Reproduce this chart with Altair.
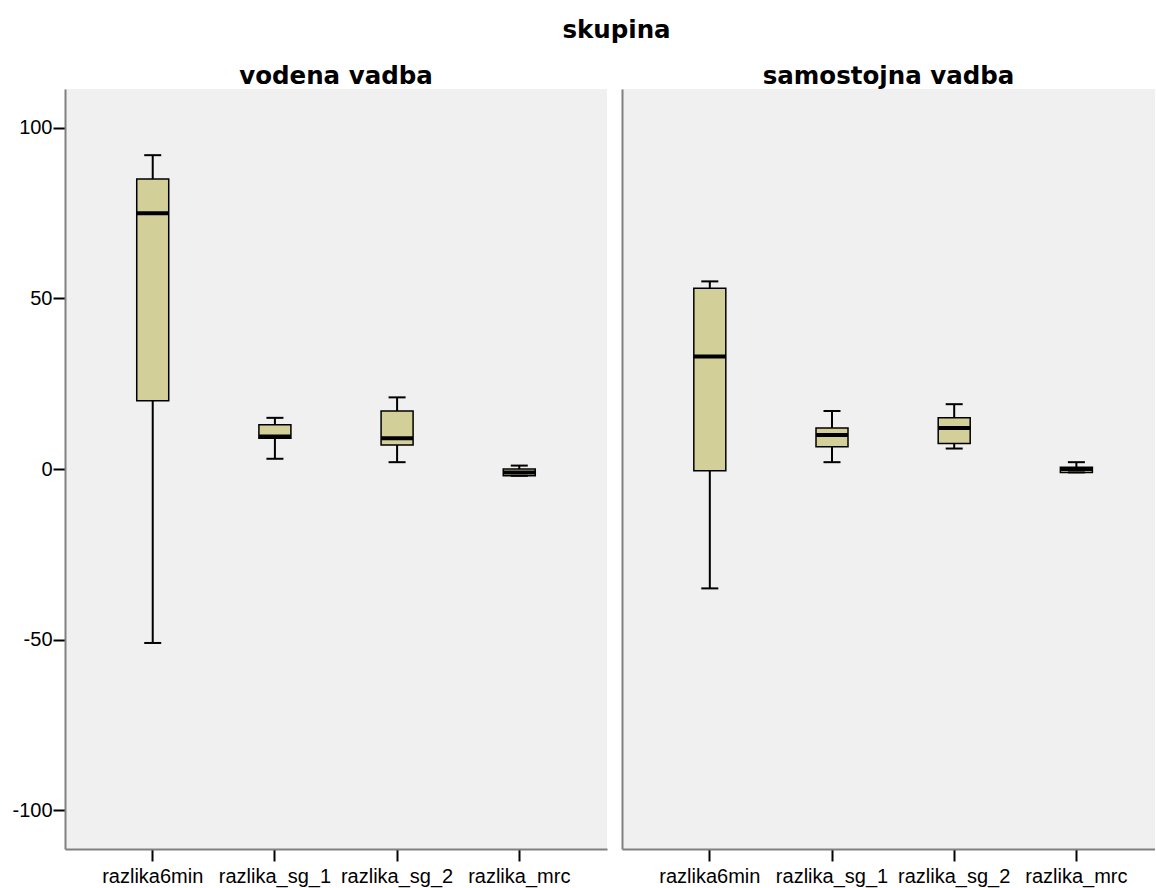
import altair as alt
import pandas as pd

# Variables on the x axis and the two groups shown as panels
categories = ["razlika6min", "razlika_sg_1", "razlika_sg_2", "razlika_mrc"]
groups = ["vodena vadba", "samostojna vadba"]

# Five-number summaries per group, in the order of `categories`
vodena_min = [-51, 3, 2, -2]
vodena_q1 = [20, 9, 7, -2]
vodena_median = [75, 9.5, 9, -1]
vodena_q3 = [85, 13, 17, 0]
vodena_max = [92, 15, 21, 1]

samostojna_min = [-35, 2, 6, -1]
samostojna_q1 = [-0.5, 6.5, 7.5, -1]
samostojna_median = [33, 10, 12, 0]
samostojna_q3 = [53, 12, 15, 0.5]
samostojna_max = [55, 17, 19, 2]

y_ticks = [-100, -50, 0, 50, 100]

BOX_FILL = "#D3CF98"
PANEL_BG = "#F0F0F0"
AXIS_GRAY = "#808080"
LABEL_FONT = "Liberation Sans"
TITLE_FONT = "DejaVu Sans"


def frame(mins, q1s, meds, q3s, maxs):
    return pd.DataFrame({
        "var": categories,
        "lo": mins,
        "q1": q1s,
        "med": meds,
        "q3": q3s,
        "hi": maxs,
    })


y_scale = alt.Scale(domain=[-111.4, 111.4], nice=False, zero=False)

x_axis = alt.Axis(
    title=None, labelAngle=0, labelFont=LABEL_FONT, labelFontSize=20,
    labelColor="black", labelPadding=5, tickColor="black", tickSize=12,
    tickWidth=2, domainColor=AXIS_GRAY, domainWidth=2,
)


def panel(df, name, show_labels, width, x_scale):
    if show_labels:
        y_axis = alt.Axis(
            title=None, values=y_ticks, grid=False, labelFont=LABEL_FONT,
            labelFontSize=20, labelColor="black", labelPadding=1,
            labelExpr="toString(datum.value)",
            tickColor="black", tickSize=12, tickWidth=2,
            domainColor=AXIS_GRAY, domainWidth=2,
        )
    else:
        y_axis = alt.Axis(
            title=None, labels=False, ticks=False, grid=False,
            domainColor=AXIS_GRAY, domainWidth=2,
        )
    base = alt.Chart(df).encode(
        x=alt.X("var:N", sort=categories, scale=x_scale, axis=x_axis)
    )
    whisker = base.mark_rule(color="black", strokeWidth=2).encode(
        y=alt.Y("lo:Q", scale=y_scale, axis=y_axis), y2="hi:Q"
    )
    box = base.mark_bar(
        size=32, color=BOX_FILL, stroke="black", strokeWidth=1.5
    ).encode(y=alt.Y("q1:Q"), y2="q3:Q")
    cap_lo = base.mark_tick(
        size=17, thickness=2, color="black", opacity=1
    ).encode(y=alt.Y("lo:Q"))
    cap_hi = base.mark_tick(
        size=17, thickness=2, color="black", opacity=1
    ).encode(y=alt.Y("hi:Q"))
    median = base.mark_tick(
        size=32, thickness=4, color="black", opacity=1
    ).encode(y=alt.Y("med:Q"))
    return alt.layer(whisker, box, cap_lo, cap_hi, median).properties(
        width=width,
        height=760,
        title=alt.TitleParams(
            name, font=TITLE_FONT, fontSize=24.5, fontWeight="bold",
            color="black", anchor="middle", offset=0,
        ),
    )


left = panel(
    frame(vodena_min, vodena_q1, vodena_median, vodena_q3, vodena_max),
    groups[0], True, 542,
    alt.Scale(domain=categories, paddingInner=0, paddingOuter=0.218),
)
right = panel(
    frame(samostojna_min, samostojna_q1, samostojna_median, samostojna_q3,
          samostojna_max),
    groups[1], False, 533,
    alt.Scale(domain=categories, paddingInner=0, paddingOuter=0.181,
              align=0.604),
)

chart = (
    alt.hconcat(left, right, spacing=15)
    .properties(
        title=alt.TitleParams(
            "skupina", font=TITLE_FONT, fontSize=24.5, fontWeight="bold",
            color="black", anchor="middle", offset=20, dx=33,
        ),
        padding={"left": 11, "top": 18, "right": 0, "bottom": 2},
        background="white",
    )
    .configure_view(fill=PANEL_BG, stroke=None)
)

chart.save("out.html", embed_options={"renderer": "svg", "actions": False})
